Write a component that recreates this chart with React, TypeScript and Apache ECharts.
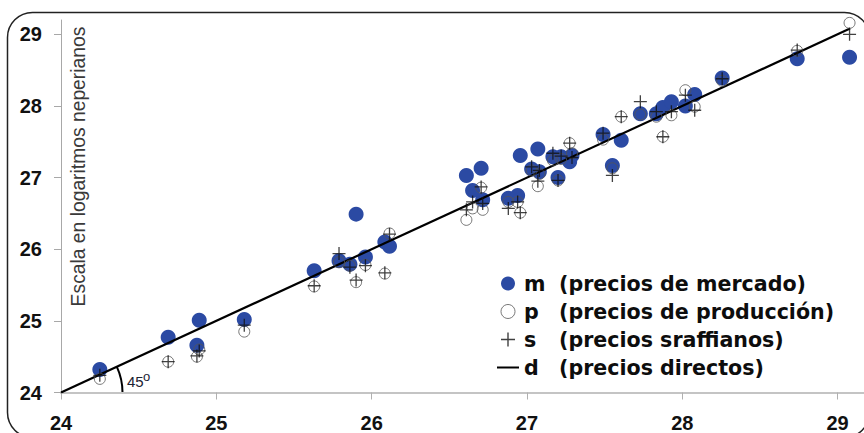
import React, { useEffect, useRef } from "react";
import * as echarts from "echarts";

// Direct prices (x) and the three price series (y), natural logs
const directPrices = [
  24.25, 24.69, 24.89, 24.875, 25.18, 25.63, 25.79, 25.86, 25.9, 25.96,
  26.085, 26.115, 26.61, 26.65, 26.705, 26.715, 26.88, 26.94, 26.957, 27.07,
  27.03, 27.08, 27.2, 27.167, 27.22, 27.275, 27.29, 27.49, 27.55, 27.607,
  27.73, 27.833, 27.875, 27.93, 28.02, 28.08, 28.257, 28.74, 29.077,
];
const marketPrices = [
  24.32, 24.77, 25.01, 24.66, 25.02, 25.7, 25.84, 25.79, 26.49, 25.89,
  26.1, 26.04, 27.03, 26.82, 27.13, 26.69, 26.71, 26.75, 27.31, 27.4,
  27.12, 27.08, 27.0, 27.29, 27.29, 27.22, 27.31, 27.6, 27.17, 27.52,
  27.89, 27.89, 27.98, 28.06, 28.0, 28.16, 28.39, 28.66, 28.68,
];
const productionPrices = [
  24.19, 24.43, 24.6, 24.5, 24.85, 25.48, 25.82, 25.77, 25.54, 25.78,
  25.66, 26.22, 26.41, 26.57, 26.86, 26.55, 26.66, 26.66, 26.51, 26.88,
  27.1, 27.05, 26.96, 27.24, 27.26, 27.48, 27.34, 27.53, 27.13, 27.85,
  27.88, 27.85, 27.57, 27.87, 28.22, 27.99, 28.35, 28.77, 29.16,
];
const sraffianPrices = [
  24.24, 24.43, 24.58, 24.51, 24.94, 25.49, 25.94, 25.75, 25.57, 25.77,
  25.67, 26.21, 26.55, 26.66, 26.87, 26.64, 26.57, 26.66, 26.51, 26.95,
  27.15, 27.1, 26.96, 27.34, 27.3, 27.48, 27.28, 27.62, 27.03, 27.85,
  28.06, 27.92, 27.57, 27.92, 28.15, 27.94, 28.38, 28.78, 29.0,
];
const diagonalEnds = [24, 29.08];
const xTicks = [24, 25, 26, 27, 28, 29];
const yTicks = [24, 25, 26, 27, 28, 29];

const legendLabels: Record<string, string> = {
  m: "(precios de mercado)",
  p: "(precios de producción)",
  s: "(precios sraffianos)",
  d: "(precios directos)",
};

const BLUE = "#2b4aa3";
const PLUS = "path://M5.4,0H6.6V5.4H12V6.6H6.6V12H5.4V6.6H0V5.4H5.4Z";
const DASH = "path://M0,0H22V2H0Z";

export default function App() {
  const ref = useRef<HTMLDivElement>(null);

  useEffect(() => {
    if (!ref.current) return;
    const chart = echarts.init(ref.current, undefined, { renderer: "svg" });
    const legendFont = {
      fontFamily: "DejaVu Sans",
      fontWeight: "bold" as const,
      fontSize: 20.6,
      color: "#0d0d0d",
      lineHeight: 20,
    };
    chart.setOption({
      animation: false,
      backgroundColor: "#fff",
      grid: { left: 61, right: 0, top: 20, bottom: 40.5, outerBoundsMode: "none" },
      xAxis: {
        type: "value",
        min: 24,
        max: 29.17,
        interval: 1,
        splitLine: { show: false },
        axisLine: { lineStyle: { color: "#c4c4c4", width: 2 } },
        axisTick: {
          customValues: xTicks,
          length: 7,
          lineStyle: { color: "#b0b0b0", width: 1 },
        },
        axisLabel: {
          customValues: xTicks,
          margin: 22,
          lineHeight: 17,
          fontFamily: "Liberation Sans",
          fontWeight: "bold",
          fontSize: 20,
          color: "#111",
        },
      },
      yAxis: {
        type: "value",
        min: 24,
        max: 29.2,
        interval: 1,
        splitLine: { show: false },
        axisLine: { show: true, lineStyle: { color: "#a8a8a8", width: 1 } },
        axisTick: {
          show: true,
          customValues: yTicks,
          length: 7,
          lineStyle: { color: "#a8a8a8", width: 1 },
        },
        axisLabel: {
          customValues: yTicks,
          margin: 19,
          fontFamily: "Liberation Sans",
          fontWeight: "bold",
          fontSize: 20,
          color: "#111",
        },
      },
      legend: {
        orient: "vertical",
        left: 492,
        top: 268,
        itemWidth: 22,
        itemHeight: 14,
        itemGap: 7,
        selectedMode: false,
        data: [
          { name: "m", icon: "circle" },
          {
            name: "p",
            icon: "circle",
            itemStyle: {
              color: "rgba(255,255,255,0)",
              borderColor: "#555",
              borderWidth: 1,
            },
          },
          { name: "s", icon: PLUS },
          { name: "d", icon: DASH, itemStyle: { color: "#000" } },
        ],
        formatter: (name: string) => `{k|${name}}{v|${legendLabels[name]}}`,
        textStyle: {
          ...legendFont,
          rich: {
            k: { ...legendFont, width: 35 },
            v: { ...legendFont },
          },
        },
      },
      series: [
        {
          name: "m",
          type: "scatter",
          z: 1,
          symbol: "circle",
          symbolSize: 15,
          itemStyle: { color: BLUE, opacity: 1 },
          data: directPrices.map((x, i) => [x, marketPrices[i]]),
        },
        {
          name: "d",
          type: "line",
          z: 2,
          symbol: "none",
          lineStyle: { color: "#000", width: 2.2 },
          itemStyle: { color: "#000" },
          data: diagonalEnds.map((v) => [v, v]),
        },
        {
          name: "p",
          type: "scatter",
          z: 3,
          symbol: "circle",
          symbolSize: 11,
          itemStyle: {
            color: "rgba(255,255,255,0)",
            borderColor: "#555",
            borderWidth: 1,
          },
          data: directPrices.map((x, i) => [x, productionPrices[i]]),
        },
        {
          name: "s",
          type: "scatter",
          z: 4,
          symbol: PLUS,
          symbolSize: 13,
          itemStyle: { color: "#111" },
          data: directPrices.map((x, i) => [x, sraffianPrices[i]]),
        },
      ],
      graphic: [
        {
          type: "rect",
          silent: true,
          z: 100,
          shape: { x: 7.5, y: 12.5, width: 862, height: 425, r: 25 },
          style: { fill: "none", stroke: "#222", lineWidth: 1.5 },
        },
        {
          type: "text",
          silent: true,
          x: 78.5,
          y: 166.5,
          rotation: Math.PI / 2,
          style: {
            text: "Escala en logaritmos neperianos",
            fontFamily: "Liberation Sans",
            fontSize: 19.3,
            fill: "#3a3a3a",
            align: "center",
            verticalAlign: "middle",
          },
        },
        {
          type: "arc",
          silent: true,
          shape: {
            cx: 61.5,
            cy: 392.5,
            r: 61,
            startAngle: -0.433,
            endAngle: 0,
            clockwise: true,
          },
          style: { stroke: "#000", lineWidth: 2, fill: "none" },
        },
        {
          type: "text",
          silent: true,
          x: 127,
          y: 389,
          style: {
            text: "45",
            fontFamily: "Liberation Sans",
            fontSize: 15,
            fill: "#1c2233",
            align: "left",
            verticalAlign: "bottom",
          },
        },
        {
          type: "text",
          silent: true,
          x: 143,
          y: 383,
          style: {
            text: "o",
            fontFamily: "Liberation Sans",
            fontSize: 13,
            fill: "#1c2233",
            align: "left",
            verticalAlign: "bottom",
          },
        },
      ],
    });
    return () => chart.dispose();
  }, []);

  return (
    <div
      ref={ref}
      style={{ position: "fixed", left: 0, top: 0, width: 864, height: 433 }}
    />
  );
}
